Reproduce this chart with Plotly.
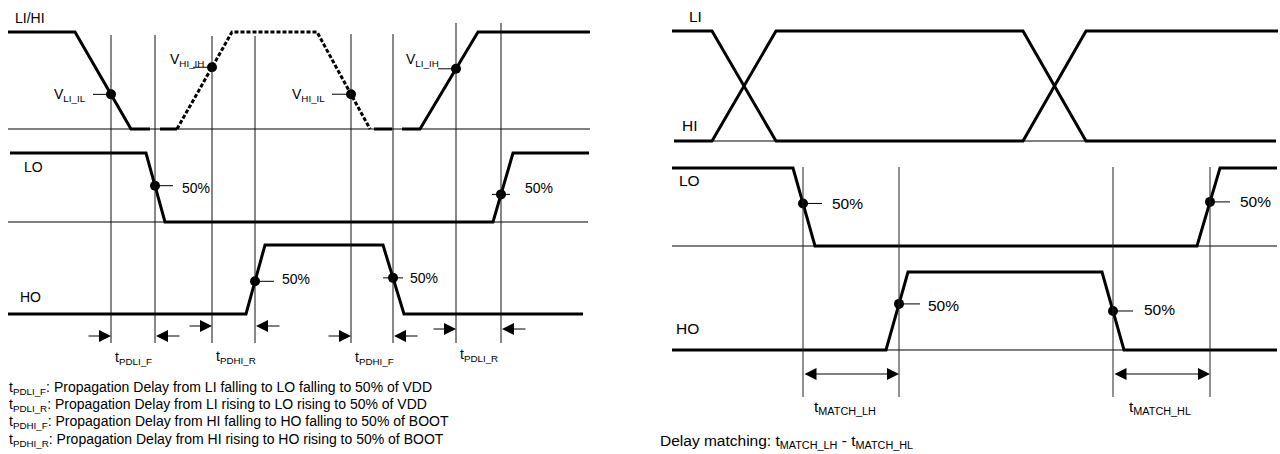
import numpy as np
import plotly.graph_objects as go

W, H = 1280, 454
FONT = "Arial, 'Liberation Sans', Helvetica, sans-serif"

# ---------------- data: left diagram (propagation delay) ----------------
# breakpoints on the time axis and logic levels (0 = low, 1 = high)
li_fall_t = [8, 75, 131, 150]
li_fall_v = [1, 1, 0, 0]
hi_low_t = [160, 177]
hi_low_v = [0, 0]
hi_pulse_t = [177, 232, 317, 370]
hi_pulse_v = [0, 1, 1, 0]
hi_low2_t = [374, 392]
hi_low2_v = [0, 0]
li_rise_t = [402, 420, 478, 590]
li_rise_v = [0, 0, 1, 1]
lo_left_t = [10, 146, 165, 493, 513, 589]
lo_left_v = [1, 1, 0, 0, 1, 1]
ho_left_t = [8, 246, 265, 383, 404, 583]
ho_left_v = [0, 0, 1, 1, 0, 0]

left_markers = [111, 155, 212, 255, 351, 393, 456, 501]
thr_labels = ["V<sub>LI_IL</sub>", "V<sub>HI_IH</sub>", "V<sub>HI_IL</sub>", "V<sub>LI_IH</sub>"]
delay_labels = ["t<sub>PDLI_F</sub>", "t<sub>PDHI_R</sub>", "t<sub>PDHI_F</sub>", "t<sub>PDLI_R</sub>"]
legend_lines = [
    "t<sub>PDLI_F</sub>: Propagation Delay from LI falling to LO falling to 50% of VDD",
    "t<sub>PDLI_R</sub>: Propagation Delay from LI rising to LO rising to 50% of VDD",
    "t<sub>PDHI_F</sub>: Propagation Delay from HI falling to HO falling to 50% of BOOT",
    "t<sub>PDHI_R</sub>: Propagation Delay from HI rising to HO rising to 50% of BOOT",
]

# ---------------- data: right diagram (delay matching) ----------------
li_r_t = [672, 712, 776, 1023, 1086, 1278]
li_r_v = [1, 1, 0, 0, 1, 1]
hi_r_t = [674, 712, 776, 1023, 1086, 1276]
hi_r_v = [0, 0, 1, 1, 0, 0]
lo_r_t = [672, 793, 815, 1197, 1220, 1277]
lo_r_v = [1, 1, 0, 0, 1, 1]
ho_r_t = [672, 886, 908, 1102, 1124, 1277]
ho_r_v = [0, 0, 1, 1, 0, 0]

right_markers = [803, 899, 1113, 1210]
match_labels = ["t<sub>MATCH_LH</sub>", "t<sub>MATCH_HL</sub>"]
match_note = "Delay matching: t<sub>MATCH_LH</sub> - t<sub>MATCH_HL</sub>"

# ---------------- layout helpers ----------------
P = 0.15  # level padding
# (low pixel row, high pixel row) for each signal row
ROWS = {
    "y": (129, 32), "y2": (222, 153), "y3": (314, 245),
    "y4": (141, 31), "y5": (246, 168), "y6": (350, 272),
}


def dom(low, high):
    span = low - high
    return [1 - (low + P * span) / H, 1 - (high - P * span) / H]


def py(p):
    return 1 - p / H


fig = go.Figure()


def wave(t, v, ax, width=3, dash="solid"):
    fig.add_trace(go.Scatter(x=t, y=v, yaxis=ax, mode="lines",
                             line=dict(color="black", width=width, dash=dash),
                             hoverinfo="skip", showlegend=False))


def dot(t, wt, wv, ax, lead):
    lv = float(np.interp(t, wt, wv))
    fig.add_trace(go.Scatter(x=[t + lead[0], t + lead[1]], y=[lv, lv], yaxis=ax, mode="lines",
                             line=dict(color="black", width=1), hoverinfo="skip", showlegend=False))
    fig.add_trace(go.Scatter(x=[t], y=[lv], yaxis=ax, mode="markers",
                             marker=dict(color="black", size=10), hoverinfo="skip", showlegend=False))


# left thin baselines
wave([8, 590], [0, 0], "y", width=1)
wave([8, 588], [0, 0], "y2", width=1)
# left waveforms
wave(li_fall_t, li_fall_v, "y")
wave(hi_low_t, hi_low_v, "y")
wave(hi_pulse_t, hi_pulse_v, "y", dash="4px,2px")
wave(hi_low2_t, hi_low2_v, "y")
wave(li_rise_t, li_rise_v, "y")
wave(lo_left_t, lo_left_v, "y2")
wave(ho_left_t, ho_left_v, "y3")

# threshold dots
dot(left_markers[0], li_fall_t, li_fall_v, "y", (-18, 0))
dot(left_markers[2], hi_pulse_t, hi_pulse_v, "y", (-19, 0))
dot(left_markers[4], hi_pulse_t, hi_pulse_v, "y", (-19, 0))
dot(left_markers[6], li_rise_t, li_rise_v, "y", (-18, 0))
# 50% dots
dot(left_markers[1], lo_left_t, lo_left_v, "y2", (0, 18))
dot(left_markers[3], ho_left_t, ho_left_v, "y3", (0, 19))
dot(left_markers[5], ho_left_t, ho_left_v, "y3", (-10, 10))
dot(left_markers[7], lo_left_t, lo_left_v, "y2", (-9, 9))

# right thin baselines
wave([674, 1276], [0, 0], "y4", width=1)
wave([672, 1277], [0, 0], "y5", width=1)
wave([672, 1277], [0, 0], "y6", width=1)
# right waveforms
wave(li_r_t, li_r_v, "y4")
wave(hi_r_t, hi_r_v, "y4")
wave(lo_r_t, lo_r_v, "y5")
wave(ho_r_t, ho_r_v, "y6")
dot(right_markers[0], lo_r_t, lo_r_v, "y5", (0, 19))
dot(right_markers[1], ho_r_t, ho_r_v, "y6", (0, 21))
dot(right_markers[2], ho_r_t, ho_r_v, "y6", (0, 20))
dot(right_markers[3], lo_r_t, lo_r_v, "y5", (0, 20))

shapes = []
left_tops = [35, 35, 36, 36, 34, 34, 23, 23]
for t, top in zip(left_markers, left_tops):
    shapes.append(dict(type="line", xref="x", yref="paper", x0=t, x1=t, y0=py(top), y1=py(343),
                       line=dict(color="#111", width=1)))
for t in right_markers:
    shapes.append(dict(type="line", xref="x", yref="paper", x0=t, x1=t, y0=py(167), y1=py(397),
                       line=dict(color="#222", width=1)))

ann = []


def text(x, y, s, size, anchor="left"):
    ann.append(dict(x=x, y=py(y), xref="x", yref="paper", text=s, showarrow=False,
                    xanchor=anchor, yanchor="middle", font=dict(family=FONT, size=size, color="black")))


def arrow(tip, tail, y, both=False):
    ann.append(dict(x=tip, y=py(y), xref="x", yref="paper", ax=tail, ay=0, axref="x", ayref="pixel",
                    text="", showarrow=True, arrowhead=2, arrowsize=2, arrowwidth=1.2,
                    arrowcolor="black", arrowside="end+start" if both else "end", standoff=0,
                    startstandoff=0))


# left labels
text(13, 18, "LI/HI", 14)
text(22, 167, "LO", 14)
text(18, 297, "HO", 14)
thr_pos = [(88, 95), (206, 60), (327, 95), (441, 60)]
for s, (x, y) in zip(thr_labels, thr_pos):
    text(x, y, s, 14, anchor="right")
for x, y in [(180, 188), (280, 279), (408, 278), (523, 188)]:
    text(x, y, "50%", 14)

arrow_y = [336, 326, 336, 329]
for i, y in enumerate(arrow_y):
    a, b = left_markers[2 * i], left_markers[2 * i + 1]
    arrow(a, a - 24, y)
    arrow(b + 1, b + 26, y)
lab_y = [358, 357, 358, 355]
for i, (s, y) in enumerate(zip(delay_labels, lab_y)):
    text(left_markers[2 * i] + 2, y, s, 14)
for i, s in enumerate(legend_lines):
    text(7, [388, 405, 422, 440][i], s, 14)

# right labels
text(687, 17, "LI", 15.5)
text(680, 125, "HI", 15.5)
text(677, 180, "LO", 15.5)
text(674, 328, "HO", 15.5)
for x, y in [(830, 204), (926, 305), (1142, 309), (1238, 201)]:
    text(x, y, "50%", 15.5)
arrow(right_markers[1], right_markers[0], 374, both=True)
arrow(right_markers[3], right_markers[2], 374, both=True)
text(812, 407, match_labels[0], 15.5)
text(1127, 407, match_labels[1], 15.5)
text(658, 441, match_note, 15.5)

layout = dict(width=W, height=H, margin=dict(l=0, r=0, t=0, b=0), paper_bgcolor="white",
              plot_bgcolor="rgba(0,0,0,0)", showlegend=False, shapes=shapes, annotations=ann,
              xaxis=dict(range=[0, W], domain=[0, 1], visible=False, fixedrange=True))
for k, (lo, hi) in ROWS.items():
    name = "yaxis" if k == "y" else "yaxis" + k[1:]
    layout[name] = dict(range=[-P, 1 + P], domain=dom(lo, hi), anchor="x", visible=False,
                        fixedrange=True)
fig.update_layout(**layout)
fig.write_html("out.html", config={"displayModeBar": False})
